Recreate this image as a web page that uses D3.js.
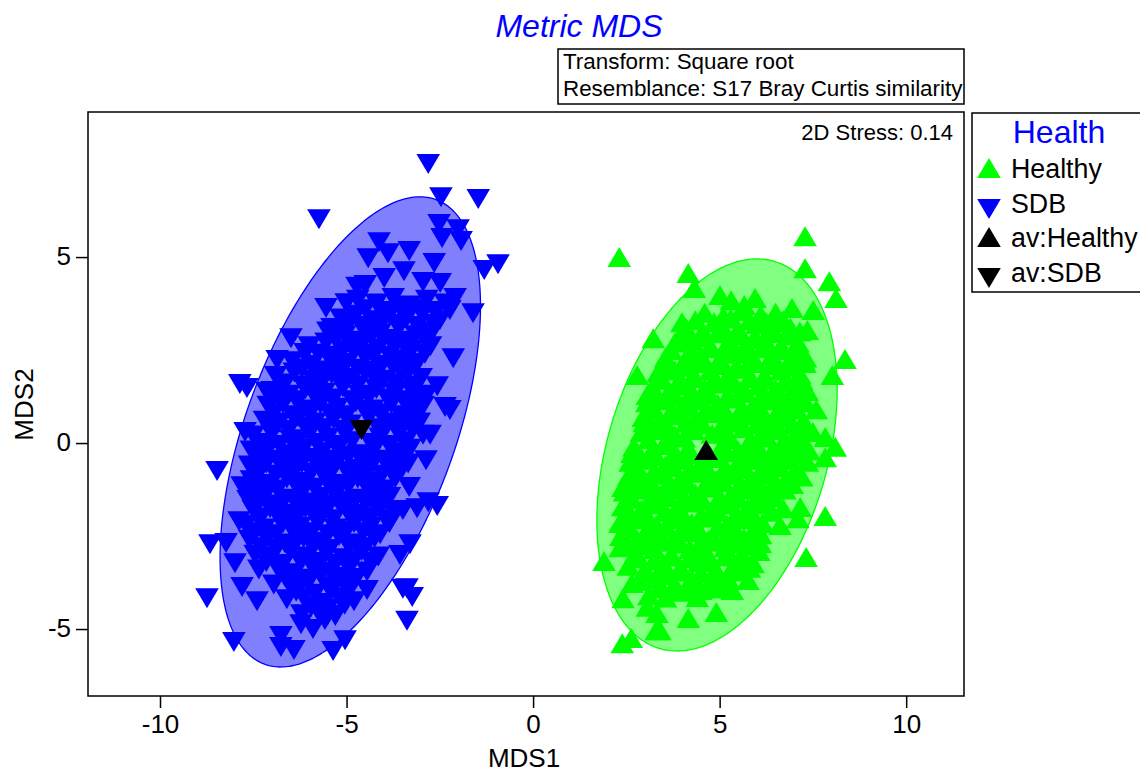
<!DOCTYPE html>
<html>
<head>
<meta charset="utf-8">
<script src="https://cdn.jsdelivr.net/npm/d3@7"></script>
<style>
  html, body { margin: 0; padding: 0; background: #fff; overflow: hidden; }
  svg { display: block; }
  text { font-family: "Liberation Sans", Arial, sans-serif; fill: #000; }
</style>
</head>
<body>
<div id="chart"></div>
<script>
// values, in MDS units
const xTicks = [-10, -5, 0, 5, 10];
const yTicks = [-5, 0, 5];
const legendNames = ["Healthy", "SDB", "av:Healthy", "av:SDB"];
const infoLines = ["Transform: Square root", "Resemblance: S17 Bray Curtis similarity"];

// [centre x, centre y, half width, half height, correlation]
const sdbEllipse = [-4.9, 0.3, 3.49, 6.32, 0.535];
const healthyEllipse = [4.93, -0.32, 3.22, 5.27, 0.333];

const avHealthy = [[4.64, -0.19]];
const avSDB = [[-4.6, 0.35]];

const sdbPoints = [
  [-2.81,7.5],[-2.47,6.61],[-1.47,6.56],[-5.74,6.02],[-2.52,5.89],[-2.01,5.75],[-2.44,5.51],[-1.93,5.43],
  [-4.13,5.4],[-4.42,4.97],[-3.32,5.16],[-3.89,5.1],[-2.65,4.84],[-0.94,4.81],[-1.31,4.65],[-3.46,4.62],
  [-3.99,4.44],[-4.72,4.2],[-4.5,4.25],[-2.09,3.9],[-1.61,3.49],[-2.23,3.58],[-5.01,3.76],[-5.55,3.63],
  [-2.95,4.33],[-2.49,4.3],[-5.39,3.09],[-6.49,2.82],[-2.14,2.28],[-6.86,2.23],[-6.11,2.42],[-7.86,1.59],
  [-7.67,1.48],[-2.57,1.53],[-7.13,1.37],[-2.36,0.97],
  [-7.72,0.3],[-8.47,-0.75],[-7.8,-1.16],[-7.64,-1.53],[-7.88,-2.1],[-8.66,-2.72],[-8.23,-2.69],[-7.99,-3.23],
  [-7.8,-3.87],[-8.74,-4.17],[-7.4,-4.25],[-8.02,-5.35],[-6.76,-5.19],[-6.76,-5.48],[-6.41,-5.56],[-5.36,-5.59],
  [-5.04,-5.3],[-6.22,-4.87],[-5.58,-4.76],[-5.5,-4.62],[-3.38,-4.78],[-3.49,-3.92],[-3.24,-4.14],[-3.38,-3.9],
  [-4.45,-3.95],[-4.83,-3.63],[-3.3,-2.72],[-3.57,-3.01],[-2.57,-1.69],[-2.81,-1.59],[-3.11,-1.75],[-3.49,-1.8],
  [-3.32,-1.18],[-4.02,-1.53],[-2.87,-0.46],[-2.76,0.22],[-2.23,0.89],[-2.95,0.22],
  [-4.7,3.85],[-4.2,3.75],[-3.75,3.9],[-3.3,3.7],[-2.85,3.85],[-2.35,3.75],
  [-5.15,3.35],[-4.75,3.45],[-4.3,3.3],[-3.85,3.45],[-3.4,3.35],[-2.95,3.5],[-2.5,3.3],
  [-5.5,3.0],[-5.05,2.9],[-4.55,3.05],[-4.1,2.95],[-3.6,3.1],[-3.15,2.9],[-2.7,3.0],
  [-6.0,2.6],[-5.55,2.7],[-5.1,2.5],[-4.6,2.65],[-4.15,2.55],[-3.7,2.7],[-3.25,2.5],[-2.75,2.6],
  [-6.45,2.2],[-5.95,2.1],[-5.45,2.25],[-5.0,2.15],[-4.5,2.3],[-4.05,2.1],[-3.55,2.25],[-3.1,2.15],
  [-6.9,1.8],[-6.4,1.9],[-5.9,1.7],[-5.4,1.85],[-4.95,1.75],[-4.5,1.9],[-4.0,1.7],[-3.5,1.85],[-3.0,1.75],
  [-7.0,1.4],[-6.55,1.3],[-6.1,1.45],[-5.6,1.35],[-5.1,1.5],[-4.65,1.3],[-4.2,1.45],[-3.7,1.35],[-3.25,1.4],[-2.85,1.3],
  [-7.1,1.0],[-6.7,1.05],[-6.2,0.9],[-5.7,1.05],[-5.25,0.95],[-4.75,1.1],[-4.3,0.9],[-3.8,1.05],[-3.35,0.95],[-2.95,1.0],
  [-7.2,0.6],[-6.8,0.55],[-6.3,0.7],[-5.85,0.55],[-5.35,0.65],[-4.9,0.5],[-4.4,0.7],[-3.95,0.55],[-3.45,0.65],[-3.05,0.55],
  [-7.5,0.2],[-7.0,0.25],[-6.5,0.1],[-6.0,0.25],[-5.5,0.15],[-5.05,0.3],[-4.1,0.15],[-3.6,0.25],
  [-7.55,-0.2],[-7.1,-0.15],[-6.6,-0.3],[-6.15,-0.15],[-5.65,-0.25],[-5.2,-0.1],[-4.7,-0.3],[-4.25,-0.15],[-3.75,-0.25],[-3.3,-0.15],
  [-7.6,-0.6],[-7.15,-0.55],[-6.65,-0.7],[-6.2,-0.55],[-5.7,-0.65],[-5.25,-0.5],[-4.75,-0.7],[-4.3,-0.55],[-3.8,-0.65],[-3.35,-0.55],
  [-7.55,-1.0],[-7.05,-1.1],[-6.6,-0.95],[-6.1,-1.05],[-5.6,-0.9],[-5.15,-1.1],[-4.7,-0.95],[-4.2,-1.05],[-3.7,-0.95],
  [-7.6,-1.4],[-7.15,-1.35],[-6.65,-1.5],[-6.2,-1.35],[-5.7,-1.45],[-5.25,-1.3],[-4.75,-1.5],[-4.3,-1.35],[-3.85,-1.45],
  [-7.5,-1.8],[-7.05,-1.75],[-6.55,-1.9],[-6.1,-1.75],[-5.6,-1.85],[-5.15,-1.7],[-4.65,-1.9],[-4.2,-1.75],[-3.75,-1.85],
  [-7.7,-2.2],[-7.2,-2.3],[-6.7,-2.15],[-6.25,-2.25],[-5.75,-2.1],[-5.3,-2.3],[-4.8,-2.15],[-4.35,-2.25],[-3.85,-2.15],
  [-7.6,-2.6],[-7.15,-2.55],[-6.65,-2.7],[-6.15,-2.55],[-5.7,-2.65],[-5.2,-2.5],[-4.75,-2.7],[-4.25,-2.55],
  [-7.45,-3.0],[-7.0,-3.05],[-6.5,-2.9],[-6.05,-3.05],[-5.55,-2.95],[-5.1,-3.1],[-4.6,-2.9],[-4.15,-3.05],
  [-7.35,-3.4],[-6.85,-3.35],[-6.4,-3.5],[-5.9,-3.35],[-5.45,-3.45],[-4.95,-3.3],[-4.45,-3.45],
  [-6.95,-3.8],[-6.5,-3.85],[-6.0,-3.7],[-5.5,-3.85],[-5.05,-3.75],
  [-6.6,-4.2],[-6.15,-4.15],[-5.65,-4.3],[-5.2,-4.15],[-4.8,-4.25],
  [-6.2,-4.6],[-5.75,-4.55],[-5.3,-4.65],[-5.9,-5.0],
  [-4.5,3.6],[-4.0,3.55],[-3.55,3.65],[-3.05,3.6],[-2.6,3.55],
  [-4.95,3.2],[-4.5,3.15],[-4.05,3.25],[-3.55,3.2],[-3.1,3.15],[-2.65,3.2],
  [-5.3,2.8],[-4.85,2.75],[-4.35,2.85],[-3.85,2.8],[-3.4,2.75],[-2.9,2.8],
  [-5.75,2.4],[-5.25,2.35],[-4.8,2.45],[-4.3,2.4],[-3.85,2.35],[-3.35,2.45],[-2.9,2.4],
  [-6.2,2.0],[-5.7,1.95],[-5.2,2.05],[-4.7,2.0],[-4.25,1.95],[-3.75,2.05],[-3.3,2.0],
  [-6.65,1.6],[-6.15,1.55],[-5.65,1.65],[-5.15,1.6],[-4.7,1.55],[-4.2,1.65],[-3.7,1.6],[-3.2,1.55],
  [-6.8,1.2],[-6.3,1.15],[-5.85,1.25],[-5.35,1.2],[-4.85,1.15],[-4.4,1.25],[-3.9,1.2],[-3.45,1.15],[-3.05,1.2],
  [-6.95,0.8],[-6.45,0.75],[-5.95,0.85],[-5.45,0.8],[-5.0,0.75],[-4.5,0.85],[-4.05,0.8],[-3.55,0.75],[-3.15,0.8],
  [-7.05,0.4],[-6.55,0.35],[-6.05,0.45],[-5.6,0.4],[-5.1,0.35],[-4.15,0.4],[-3.7,0.45],[-3.25,0.4],
  [-7.3,0.0],[-6.8,-0.05],[-6.3,0.05],[-5.8,0.0],[-5.3,-0.05],[-4.85,0.05],[-4.35,0.0],[-3.85,-0.05],[-3.4,0.05],
  [-7.35,-0.4],[-6.85,-0.45],[-6.4,-0.35],[-5.9,-0.4],[-5.45,-0.45],[-4.95,-0.35],[-4.5,-0.4],[-4.0,-0.45],[-3.55,-0.35],
  [-7.35,-0.8],[-6.9,-0.85],[-6.4,-0.75],[-5.95,-0.8],[-5.45,-0.85],[-5.0,-0.75],[-4.5,-0.8],[-4.05,-0.85],[-3.55,-0.75],
  [-7.3,-1.2],[-6.85,-1.25],[-6.35,-1.15],[-5.85,-1.2],[-5.4,-1.25],[-4.95,-1.15],[-4.45,-1.2],[-3.95,-1.25],
  [-7.35,-1.6],[-6.85,-1.65],[-6.4,-1.55],[-5.9,-1.6],[-5.45,-1.65],[-4.95,-1.55],[-4.5,-1.6],[-4.05,-1.65],
  [-7.3,-2.0],[-6.8,-2.05],[-6.3,-1.95],[-5.85,-2.0],[-5.35,-2.05],[-4.9,-1.95],[-4.4,-2.0],[-3.95,-2.05],
  [-7.45,-2.4],[-6.9,-2.45],[-6.45,-2.35],[-5.95,-2.4],[-5.5,-2.45],[-5.0,-2.35],[-4.55,-2.4],[-4.1,-2.45],
  [-7.3,-2.8],[-6.9,-2.85],[-6.4,-2.75],[-5.9,-2.8],[-5.45,-2.85],[-4.95,-2.75],[-4.5,-2.8],
  [-7.15,-3.2],[-6.7,-3.25],[-6.25,-3.15],[-5.75,-3.2],[-5.3,-3.25],[-4.8,-3.15],[-4.35,-3.2],
  [-6.65,-3.6],[-6.2,-3.65],[-5.7,-3.55],[-5.25,-3.6],[-4.75,-3.65],
  [-6.35,-4.0],[-5.85,-4.05],[-5.4,-3.95],[-4.95,-4.0],
  [-5.95,-4.4],[-5.5,-4.45],[-5.05,-4.35]
];

const healthyPoints = [
  [2.31,5.0],[7.29,5.56],[7.29,4.7],[7.94,4.35],[8.12,3.9],[4.16,4.57],[4.32,4.17],[5.01,3.98],
  [5.31,3.84],[5.66,3.71],[5.95,3.9],[6.94,3.63],[7.51,3.58],[6.57,3.25],[3.99,3.25],[7.35,3.04],
  [3.22,2.82],[8.36,2.26],[8.02,1.83],[2.79,1.83],[7.29,2.15],[3.06,1.29],[2.98,0.56],[7.59,0.91],
  [7.24,0.43],[7.83,0.16],[8.1,-0.1],[7.83,-0.38],[2.65,-0.27],[2.41,-1.18],[2.68,-0.94],[2.33,-2.15],
  [7.83,-1.96],[7.1,-2.02],[6.62,-2.2],[7.16,-1.72],[7.32,-3.06],[2.33,-2.8],[1.9,-3.17],[2.41,-4.17],
  [2.65,-3.76],[2.39,-5.38],[2.63,-5.24],[3.3,-5.03],[3.4,-5.03],[3.32,-4.57],[3.06,-4.4],[4.16,-4.7],
  [4.91,-4.54],[5.76,-3.68],[5.34,-3.95],[5.09,-3.9],[4.4,-4.14],[5.9,-3.23],[6.09,-2.69],
  [4.6,3.5],[5.1,3.4],[5.6,3.55],[6.1,3.45],[6.5,3.5],
  [4.1,3.1],[4.55,3.0],[5.05,3.15],[5.5,3.05],[6.0,3.2],[6.45,3.0],[6.9,3.1],[7.15,3.0],
  [3.8,2.7],[4.25,2.75],[4.75,2.6],[5.25,2.75],[5.7,2.65],[6.2,2.8],[6.65,2.6],[7.1,2.7],
  [3.55,2.3],[4.05,2.2],[4.5,2.35],[5.0,2.25],[5.45,2.4],[5.95,2.2],[6.4,2.35],[6.9,2.25],[7.3,2.3],
  [3.35,1.9],[3.8,1.95],[4.3,1.8],[4.75,1.95],[5.25,1.85],[5.7,2.0],[6.2,1.8],[6.65,1.95],[7.15,1.85],
  [3.2,1.5],[3.65,1.4],[4.15,1.55],[4.6,1.45],[5.1,1.6],[5.55,1.4],[6.05,1.55],[6.5,1.45],[7.0,1.5],[7.35,1.4],
  [3.05,1.1],[3.55,1.15],[4.0,1.0],[4.5,1.15],[4.95,1.05],[5.45,1.2],[5.9,1.0],[6.4,1.15],[6.85,1.05],[7.3,1.1],
  [2.95,0.7],[3.4,0.6],[3.9,0.75],[4.35,0.65],[4.85,0.8],[5.3,0.6],[5.8,0.75],[6.25,0.65],[6.75,0.7],[7.25,0.6],
  [2.9,0.3],[3.35,0.35],[3.8,0.2],[4.3,0.35],[4.8,0.25],[5.15,0.25],[5.65,0.4],[6.1,0.2],[6.6,0.35],[7.05,0.25],[7.5,0.3],
  [2.7,-0.1],[3.2,-0.2],[3.65,-0.05],[4.15,-0.15],[5.05,-0.1],[5.5,-0.2],[6.0,-0.05],[6.45,-0.15],[6.95,-0.1],[7.4,-0.2],
  [2.6,-0.5],[3.05,-0.45],[3.55,-0.6],[4.0,-0.45],[4.5,-0.55],[4.95,-0.4],[5.45,-0.6],[5.9,-0.45],[6.4,-0.55],[6.85,-0.45],[7.35,-0.5],
  [2.55,-0.9],[3.0,-1.0],[3.5,-0.85],[3.95,-0.95],[4.45,-0.8],[4.9,-1.0],[5.4,-0.85],[5.85,-0.95],[6.3,-0.85],[6.8,-0.95],[7.2,-0.9],
  [2.45,-1.3],[2.95,-1.25],[3.4,-1.4],[3.9,-1.25],[4.35,-1.35],[4.85,-1.2],[5.3,-1.4],[5.8,-1.25],[6.25,-1.35],[6.75,-1.25],
  [2.4,-1.7],[2.9,-1.8],[3.35,-1.65],[3.85,-1.75],[4.3,-1.6],[4.8,-1.8],[5.25,-1.65],[5.75,-1.75],[6.2,-1.65],[6.7,-1.75],
  [2.35,-2.1],[2.85,-2.05],[3.3,-2.2],[3.8,-2.05],[4.25,-2.15],[4.75,-2.0],[5.2,-2.2],[5.7,-2.05],[6.15,-2.15],
  [2.35,-2.5],[2.8,-2.6],[3.3,-2.45],[3.75,-2.55],[4.25,-2.4],[4.7,-2.6],[5.2,-2.45],[5.65,-2.55],[6.1,-2.45],
  [2.75,-2.95],[3.25,-2.85],[3.7,-3.0],[4.2,-2.85],[4.65,-2.95],[5.15,-2.8],[5.6,-3.0],[6.05,-2.9],
  [2.55,-3.3],[3.0,-3.4],[3.5,-3.25],[3.95,-3.35],[4.45,-3.2],[4.9,-3.4],[5.4,-3.25],[5.8,-3.35],
  [2.85,-3.7],[3.3,-3.65],[3.8,-3.8],[4.25,-3.65],[4.75,-3.75],[5.2,-3.6],
  [3.1,-4.1],[3.55,-4.15],[4.05,-4.0],[4.5,-3.95],
  [4.35,3.3],[4.85,3.25],[5.3,3.35],[5.8,3.3],[6.25,3.25],[6.7,3.3],
  [3.95,2.9],[4.5,2.85],[5.0,2.95],[5.45,2.9],[5.95,2.85],[6.4,2.95],[6.85,2.9],
  [3.7,2.5],[4.25,2.45],[4.75,2.55],[5.2,2.5],[5.7,2.45],[6.15,2.55],[6.65,2.5],[7.05,2.45],
  [3.55,2.1],[4.05,2.05],[4.5,2.15],[5.0,2.1],[5.45,2.05],[5.95,2.15],[6.4,2.1],[6.9,2.05],
  [3.4,1.7],[3.9,1.65],[4.35,1.75],[4.85,1.7],[5.3,1.65],[5.8,1.75],[6.25,1.7],[6.75,1.65],[7.2,1.7],
  [3.3,1.3],[3.8,1.25],[4.25,1.35],[4.75,1.3],[5.2,1.25],[5.7,1.35],[6.15,1.3],[6.65,1.25],[7.1,1.3],
  [3.25,0.9],[3.7,0.85],[4.2,0.95],[4.65,0.9],[5.15,0.85],[5.6,0.95],[6.1,0.9],[6.55,0.85],[7.05,0.9],
  [3.15,0.5],[3.6,0.45],[4.1,0.55],[4.55,0.5],[5.05,0.45],[5.5,0.55],[6.0,0.5],[6.45,0.45],[6.95,0.5],
  [3.1,0.1],[3.55,0.05],[4.05,0.15],[5.3,0.1],[5.8,0.05],[6.25,0.15],[6.75,0.1],[7.2,0.05],
  [2.85,-0.3],[3.3,-0.35],[3.8,-0.25],[4.25,-0.3],[4.75,-0.35],[5.2,-0.25],[5.7,-0.3],[6.15,-0.35],[6.65,-0.25],[7.1,-0.3],
  [2.8,-0.7],[3.25,-0.75],[3.75,-0.65],[4.2,-0.7],[4.7,-0.75],[5.15,-0.65],[5.65,-0.7],[6.1,-0.75],[6.6,-0.65],[7.05,-0.7],
  [2.7,-1.1],[3.2,-1.15],[3.65,-1.05],[4.15,-1.1],[4.6,-1.15],[5.1,-1.05],[5.55,-1.1],[6.05,-1.15],[6.5,-1.05],[6.95,-1.1],
  [2.65,-1.5],[3.1,-1.55],[3.6,-1.45],[4.05,-1.5],[4.55,-1.55],[5.0,-1.45],[5.5,-1.5],[5.95,-1.55],[6.45,-1.45],
  [2.6,-1.9],[3.05,-1.95],[3.55,-1.85],[4.0,-1.9],[4.5,-1.95],[4.95,-1.85],[5.45,-1.9],[5.9,-1.95],[6.4,-1.85],
  [2.6,-2.3],[3.05,-2.35],[3.55,-2.25],[4.0,-2.3],[4.45,-2.35],[4.95,-2.25],[5.4,-2.3],[5.9,-2.35],
  [2.55,-2.7],[3.0,-2.75],[3.5,-2.65],[3.95,-2.7],[4.45,-2.75],[4.9,-2.65],[5.4,-2.7],[5.85,-2.75],
  [2.75,-3.1],[3.25,-3.15],[3.7,-3.05],[4.2,-3.1],[4.65,-3.15],[5.15,-3.05],[5.6,-3.1],
  [3.05,-3.5],[3.55,-3.55],[4.0,-3.45],[4.5,-3.5],[4.95,-3.55],[5.4,-3.45],
  [3.35,-3.9],[3.8,-3.95],[4.3,-3.85],[4.75,-3.9]
];

const width = 1140;
const height = 769;
const frame = { left: 88, right: 964, top: 112, bottom: 696 };

const x = d3.scaleLinear().domain([-11.93, 11.55]).range([frame.left, frame.right]);
const y = d3.scaleLinear().domain([8.9, -6.8]).range([frame.top, frame.bottom]);

const svg = d3.select("#chart").append("svg")
  .attr("width", width)
  .attr("height", height);

// triangle centred on its bounding box, dir -1 points up, 1 points down
function triangle(dir) {
  const w = 11.8, h = 10;
  return d3.line()([[-w, -dir * h], [w, -dir * h], [0, dir * h]]) + "Z";
}

function ellipsePath(e) {
  const [cx, cy, rx, ry, r] = e;
  const line = d3.line().x(t => x(cx + rx * Math.cos(t)))
    .y(t => y(cy + ry * (r * Math.cos(t) + Math.sqrt(1 - r * r) * Math.sin(t))));
  return line(d3.range(0, 2 * Math.PI, 0.02)) + "Z";
}

// ellipses
svg.append("path").attr("d", ellipsePath(sdbEllipse))
  .attr("fill", "#8080ff").attr("stroke", "#0000ff").attr("stroke-width", 1.3);
svg.append("path").attr("d", ellipsePath(healthyEllipse))
  .attr("fill", "#80ff80").attr("stroke", "#00ff00").attr("stroke-width", 1.3);

// points
function drawPoints(data, dir, color) {
  svg.append("g").selectAll("path")
    .data(data)
    .enter()
    .append("path")
      .attr("d", triangle(dir))
      .attr("transform", d => "translate(" + x(d[0]) + "," + y(d[1]) + ")")
      .attr("fill", color);
}
drawPoints(sdbPoints, 1, "#0000ff");
drawPoints(healthyPoints, -1, "#00ff00");
drawPoints(avSDB, 1, "#000000");
drawPoints(avHealthy, -1, "#000000");

// frame and axes
svg.append("rect")
  .attr("x", frame.left).attr("y", frame.top)
  .attr("width", frame.right - frame.left).attr("height", frame.bottom - frame.top)
  .attr("fill", "none").attr("stroke", "#000").attr("stroke-width", 1.5);

const xAxis = svg.append("g")
  .attr("transform", "translate(0," + frame.bottom + ")")
  .call(d3.axisBottom(x).tickValues(xTicks).tickSize(12).tickPadding(7));
const yAxis = svg.append("g")
  .attr("transform", "translate(" + frame.left + ",0)")
  .call(d3.axisLeft(y).tickValues(yTicks).tickSize(12).tickPadding(5));
[xAxis, yAxis].forEach(function(a) {
  a.select(".domain").remove();
  a.selectAll("line").attr("stroke", "#000").attr("stroke-width", 1.5);
  a.selectAll("text").style("font-size", "26px").style("font-family", '"Liberation Sans"');
});
// tick labels use plain hyphens like the original
xAxis.selectAll("text").text(d => String(d));
yAxis.selectAll("text").text(d => String(d)).attr("dy", "0.27em");

// titles
svg.append("text").attr("x", 579).attr("y", 37).attr("text-anchor", "middle")
  .style("font-size", "32px").style("font-style", "italic").style("fill", "#0000ff")
  .text("Metric MDS");
svg.append("text").attr("x", 524).attr("y", 767).attr("text-anchor", "middle")
  .style("font-size", "26px").text("MDS1");
svg.append("text").attr("transform", "translate(33,404.5)rotate(-90)").attr("text-anchor", "middle")
  .style("font-size", "26px").text("MDS2");
svg.append("text").attr("x", 953).attr("y", 140).attr("text-anchor", "end")
  .style("font-size", "22px").text("2D Stress: 0.14");

// info box
svg.append("rect").attr("x", 558).attr("y", 49).attr("width", 406).attr("height", 55)
  .attr("fill", "none").attr("stroke", "#000").attr("stroke-width", 1.5);
svg.selectAll(".info").data(infoLines).enter().append("text")
  .attr("class", "info")
  .attr("x", 563).attr("y", (d, i) => 69 + i * 27)
  .style("font-size", "22.4px")
  .text(d => d);

// legend
svg.append("rect").attr("x", 972).attr("y", 113).attr("width", 180).attr("height", 179)
  .attr("fill", "none").attr("stroke", "#000").attr("stroke-width", 1.5);
svg.append("text").attr("x", 1059).attr("y", 143).attr("text-anchor", "middle")
  .style("font-size", "32px").style("fill", "#0000ff").text("Health");

const legendSymbolY = [168, 209, 237, 278];
const legendTextY = [178, 213, 247, 282];
const legendColors = ["#00ff00", "#0000ff", "#000000", "#000000"];
const legendDirs = [-1, 1, -1, 1];
legendNames.forEach(function(name, i) {
  svg.append("path")
    .attr("d", triangle(legendDirs[i]))
    .attr("transform", "translate(989," + legendSymbolY[i] + ")")
    .attr("fill", legendColors[i]);
  svg.append("text").attr("x", 1011).attr("y", legendTextY[i])
    .style("font-size", "26.8px").text(name);
});
</script>
</body>
</html>
